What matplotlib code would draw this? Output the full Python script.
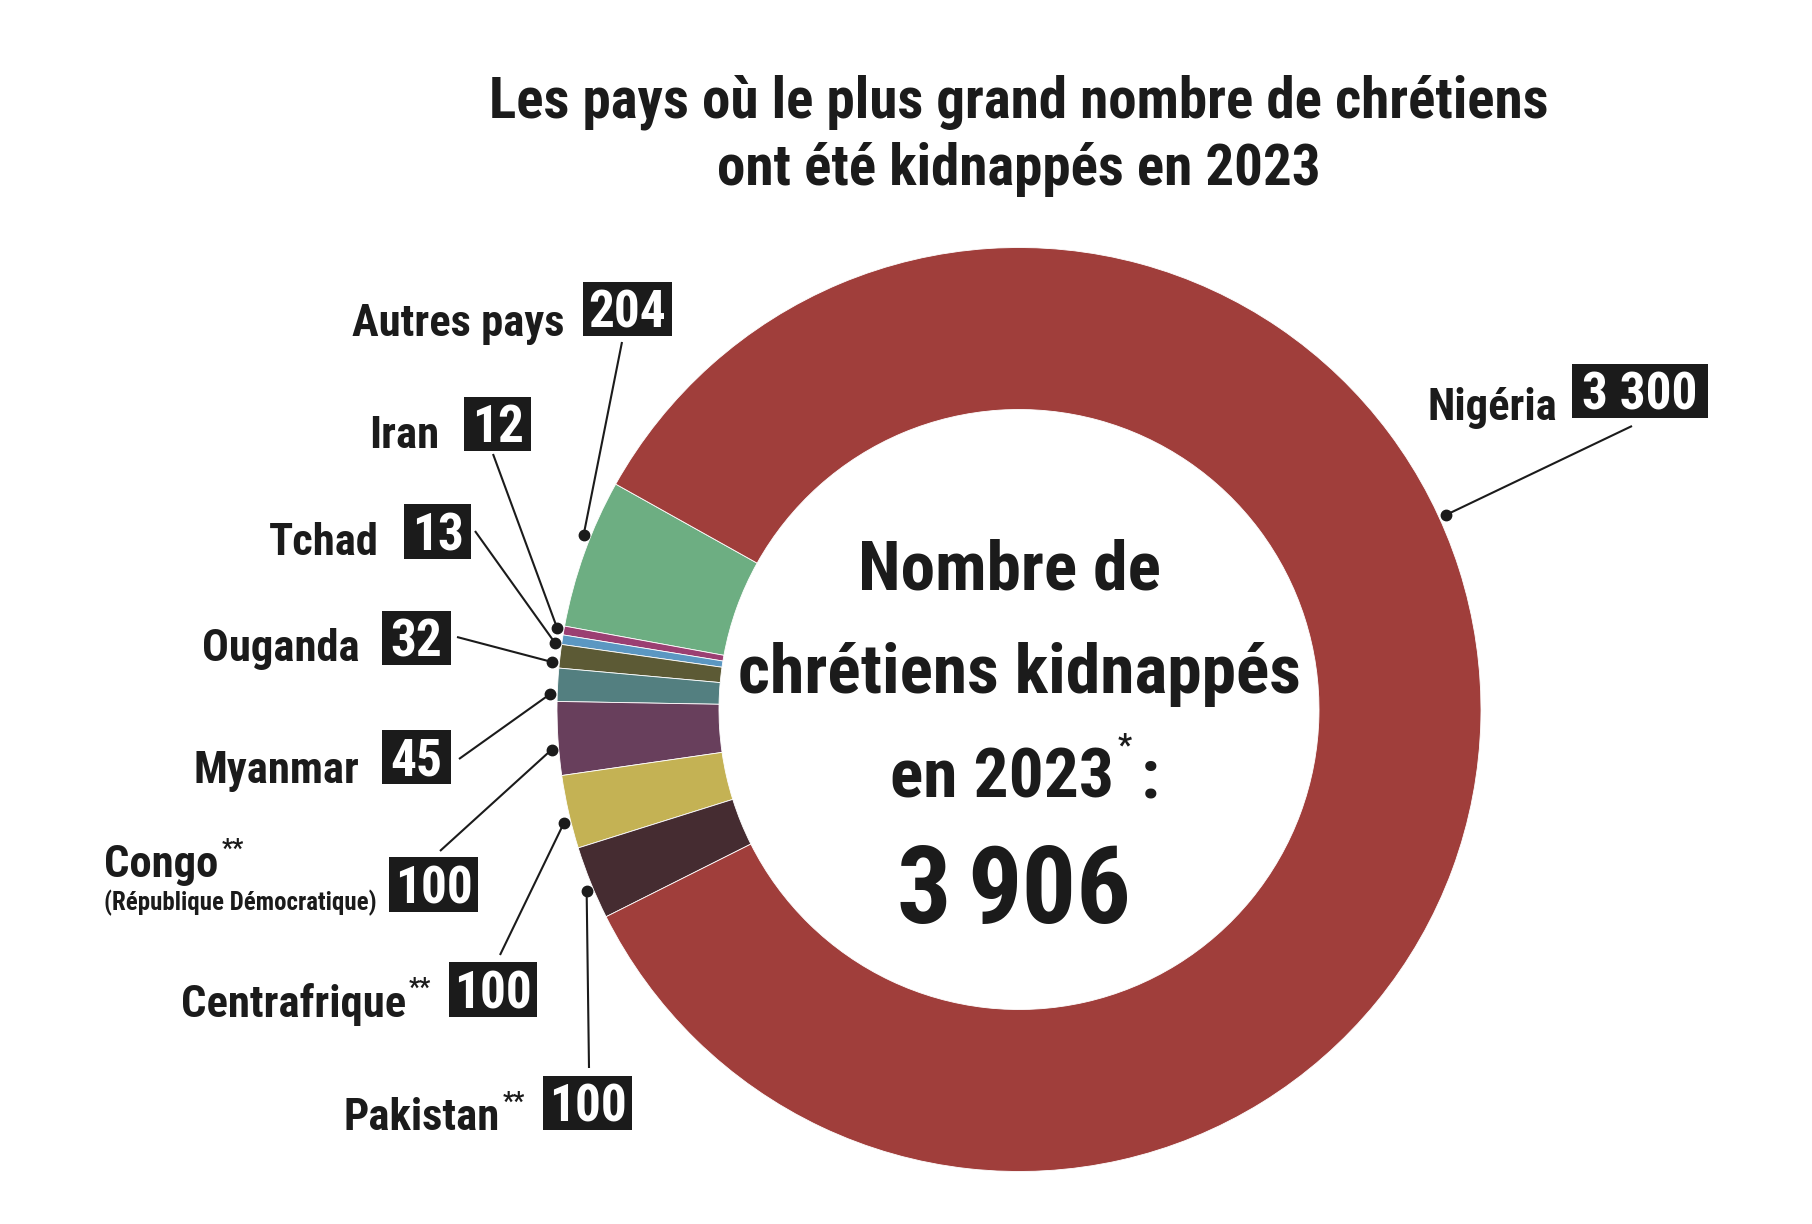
import matplotlib
matplotlib.use("Agg")
import matplotlib.pyplot as plt
from matplotlib import font_manager as fm
import numpy as np

W, H = 1812, 1224

# ---------------- data ----------------
countries = ["Autres pays", "Iran", "Tchad", "Ouganda", "Myanmar",
             "Congo", "Centrafrique", "Pakistan", "Nigéria"]
values = [204, 12, 13, 32, 45, 100, 100, 100, 3300]
value_labels = ["204", "12", "13", "32", "45", "100", "100", "100", "3 300"]
footnotes = ["", "", "", "", "", "**", "**", "**", ""]
colors = ["#6DAE82", "#9B3F72", "#5B97C2", "#5C5A35", "#537F80",
          "#683F5C", "#C4B254", "#452C31", "#A03E3B"]
title_lines = ["Les pays où le plus grand nombre de chrétiens",
               "ont été kidnappés en 2023"]
center_lines = ["Nombre de", "chrétiens kidnappés", "en 2023"]
congo_sub = "(République Démocratique)"

# ---------------- layout (pixels from top-left) ----------------
CX, CY, R_OUT, R_IN = 1019, 709.5, 462, 300
START = 150.8
# name right edge, name baseline, name target width
name_pos = [(565, 336, 212), (439, 448, 70), (379, 555, 98), (360, 661, 164),
            (359, 783, 170), (214, 877, 110), (406, 1017, 223), (500, 1130, 153),
            (1557, 420, 131)]
# box x0, y0, x1, y1
boxes = [(583, 282, 672, 336), (464, 397, 531, 451), (404, 504, 471, 559),
         (382, 611, 451, 665), (382, 730, 451, 784), (389, 857, 478, 912),
         (449, 962, 537, 1017), (543, 1076, 632, 1130), (1572, 364, 1708, 418)]
line_end = [(622, 342), (493, 454), (475, 531), (457, 637), (459, 759),
            (440, 851), (500, 955), (589, 1068), (1632, 426)]
# angle (deg) of each leader dot around the ring
dot_angles = [158.2, 170.0, 171.8, 174.2, 178.1, 184.9, 194.0, 202.8, 24.5]
DOT_R = R_OUT + 7

INK = "#1b1b1b"
WEIGHT = "bold"

avail = {f.name for f in fm.fontManager.ttflist}
FONT = "DejaVu Sans"
for cand in ["Roboto Condensed", "Liberation Sans Narrow", "Open Sans Condensed",
             "Liberation Sans"]:
    if cand in avail:
        FONT = cand
        break
plt.rcParams["font.family"] = [FONT, "DejaVu Sans"]

fig = plt.figure(figsize=(W / 100, H / 100), dpi=100)
ax = fig.add_axes([0, 0, 1, 1])


def Y(y):
    return H - y


ax.pie(values, colors=colors, startangle=START, counterclock=True,
       radius=R_OUT, center=(CX, Y(CY)),
       wedgeprops=dict(width=R_OUT - R_IN, edgecolor="white", linewidth=0.6))
ax.set_xlim(0, W)
ax.set_ylim(0, H)
ax.set_aspect("equal")
ax.axis("off")

renderer = fig.canvas.get_renderer()


def width_of(s, size):
    t = ax.text(0, 0, s, fontsize=size, fontweight=WEIGHT)
    w = t.get_window_extent(renderer).width
    t.remove()
    return w


def fit(s, target_w, cap_px=None):
    size = 40 * target_w / width_of(s, 40)
    if cap_px is not None:
        size = min(size, cap_px)  # cap px / 0.72 em * 0.72 pt/px
    return size


def txt(x, y, s, size, ha="left", va="baseline", color=INK):
    return ax.text(x, Y(y), s, fontsize=size, fontweight=WEIGHT, color=color,
                   ha=ha, va=va)


# title
ts = fit(title_lines[0], 1059, cap_px=46)
txt(CX, 118, title_lines[0], ts, ha="center")
txt(CX, 185, title_lines[1], ts, ha="center")

# centre text
cs = fit(center_lines[1], 562, cap_px=63)
txt(CX - 10, 590, center_lines[0], cs, ha="center")
txt(CX, 693, center_lines[1], cs, ha="center")
txt(1114, 797, center_lines[2], cs, ha="right")
txt(1118, 730, "*", cs * 0.45, va="top")
txt(1141, 797, ":", cs)

total = sum(values)
thousands, rest = divmod(total, 1000)
part_a, part_b = str(thousands), f"{rest:03d}"
ns = fit(part_b, 164, cap_px=87)
txt(951, 923, part_a, ns, ha="right")
txt(967, 923, part_b, ns, ha="left")

# label sizes
sizes = [fit(c, w) for c, (_, _, w) in zip(countries, name_pos)]
ls = min(float(np.median(sizes)), 38)
box_fs = 37

for i, c in enumerate(countries):
    ang = np.deg2rad(dot_angles[i])
    dx = CX + DOT_R * np.cos(ang)
    dy = Y(CY) + DOT_R * np.sin(ang)
    ex, ey = line_end[i]
    ax.plot([dx, ex], [dy, Y(ey)], color=INK, lw=1.5, solid_capstyle="butt")
    ax.plot([dx], [dy], "o", color=INK, ms=7.5)

    x0, y0, x1, y1 = boxes[i]
    ax.add_patch(plt.Rectangle((x0, Y(y1)), x1 - x0, y1 - y0, facecolor=INK,
                               edgecolor="none"))
    txt((x0 + x1) / 2, y1 - 8.5, value_labels[i], box_fs, ha="center",
        color="white")

    xr, yb, w = name_pos[i]
    if c == "Congo":
        t = txt(xr - w, yb, c, ls)
        txt(xr - w, 910, congo_sub, fit(congo_sub, 272))
    else:
        t = txt(xr, yb, c, ls, ha="right")
    if footnotes[i]:
        bb = t.get_window_extent(renderer)
        ax.text(bb.x1 + 3, bb.y1 + 6, footnotes[i], fontsize=ls * 0.55,
                fontweight=WEIGHT, color=INK, ha="left", va="top")

fig.savefig("out.png", dpi=100, facecolor="white")
